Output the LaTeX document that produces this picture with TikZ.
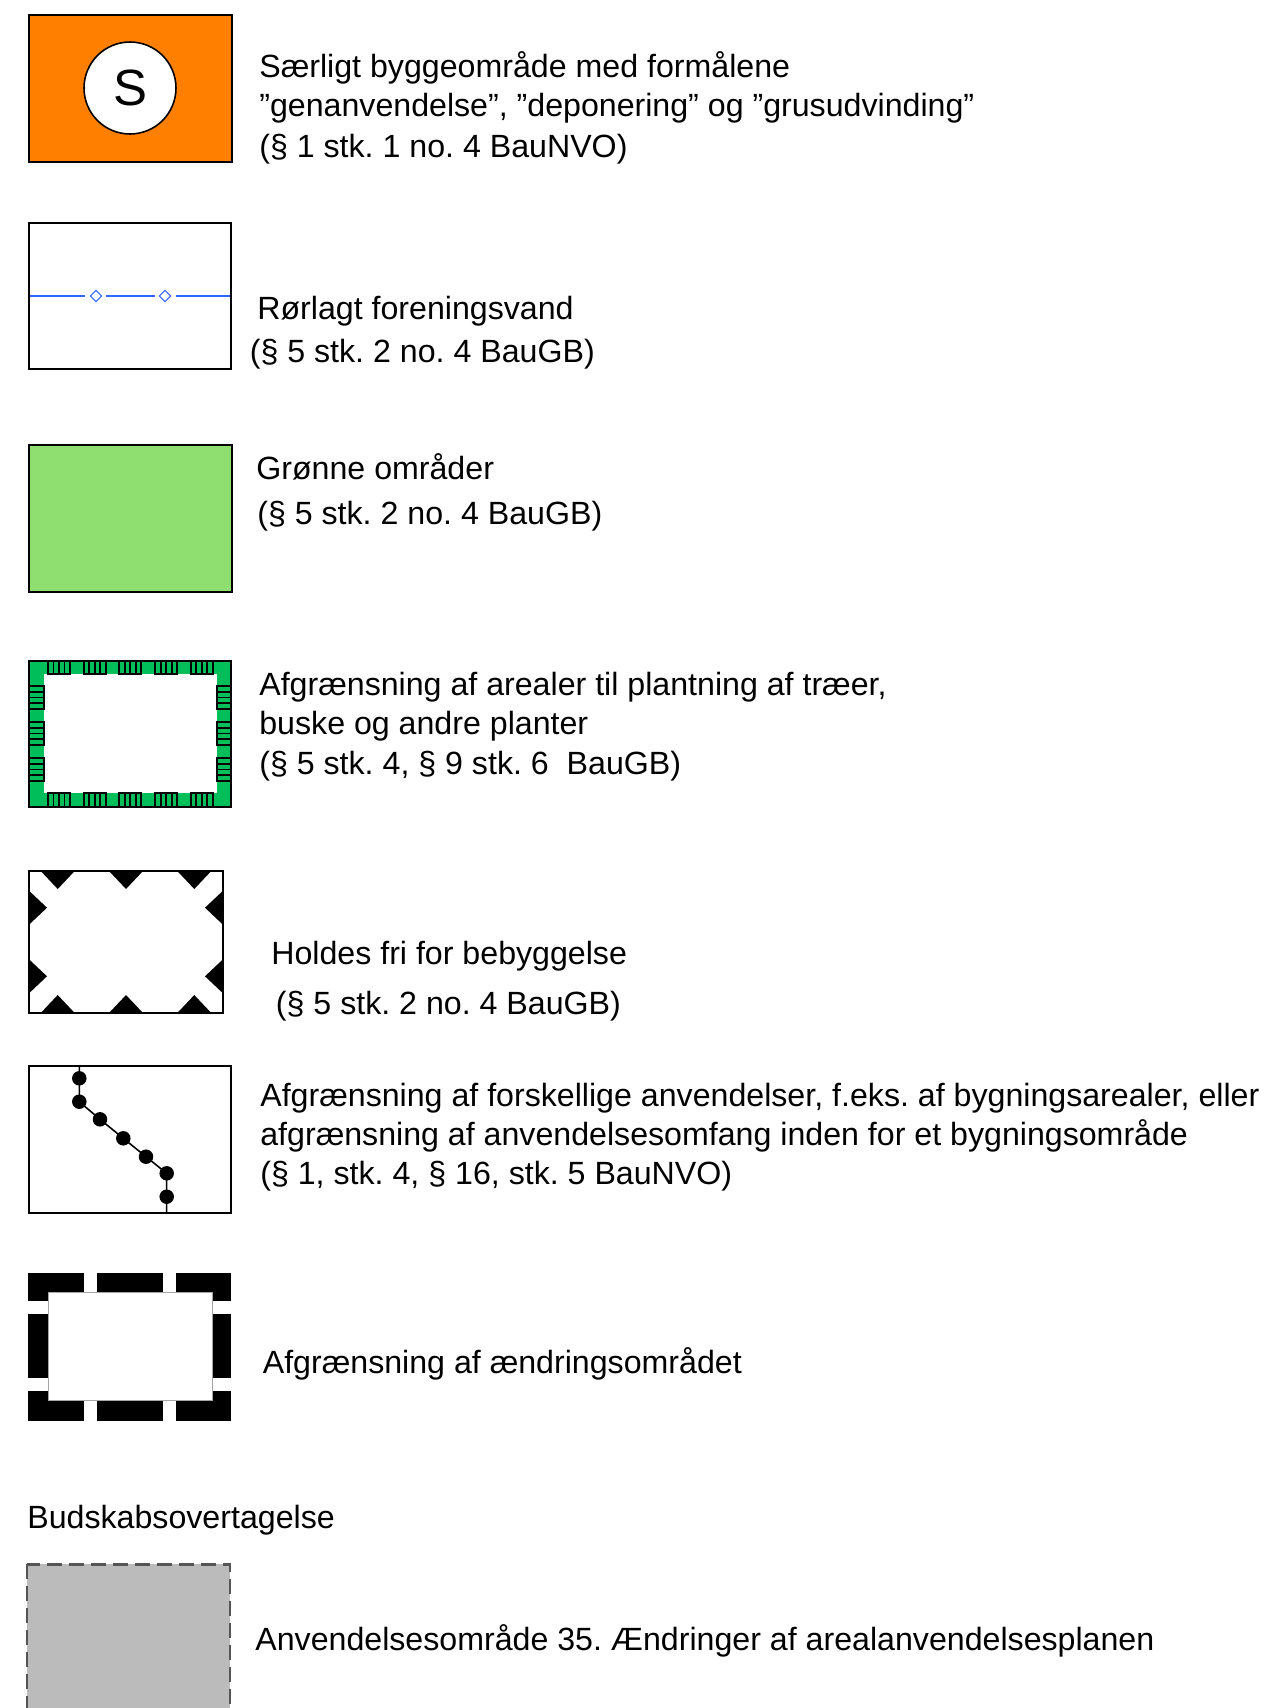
\documentclass[tikz,border=0pt]{standalone}
\usepackage{fontspec}
\setmainfont{Liberation Sans}
\frenchspacing
\definecolor{sorange}{RGB}{255,128,0}
\definecolor{pipeblue}{RGB}{51,102,255}
\definecolor{lightgreen}{RGB}{143,222,112}
\definecolor{plantgreen}{RGB}{0,190,90}
\definecolor{msggray}{RGB}{187,187,187}
\definecolor{dashgray}{RGB}{85,85,85}
\tikzset{
  legtext/.style={font=\fontsize{18.3}{22}\selectfont, anchor=base west, inner sep=0pt},
  symframe/.style={draw=black, line width=1.1pt},
  hatchbox/.style={draw=black, line width=1.1pt},
  pipe/.style={draw=pipeblue, line width=0.6pt},
}

\begin{document}
\begin{tikzpicture}[x=0.02cm,y=-0.02cm]
\useasboundingbox (0,0) rectangle (1268,1708);
% special building area (S)
\filldraw[fill=sorange, symframe] (29,15) rectangle (232,162);
\node[circle, draw, fill=white, line width=0.9pt, minimum size=1.84cm, inner sep=0pt,
      font=\fontsize{29}{30}\selectfont] (sym) at (130,88) {S};
\node[legtext] (txtS1) at (259,77) {Særligt byggeområde med formålene};
\node[legtext] (txtS2) at (259,116) {”genanvendelse”, ”deponering” og ”grusudvinding”};
\node[legtext] (txtS3) at (259,157) {(§ 1 stk. 1 no. 4 BauNVO)};
% piped water
\draw[pipe] (29,296) -- (85,296) (106,296) -- (155,296) (176,296) -- (231,296);
\foreach \x in {96,165}{
  \draw[pipe] (\x-5.7,296) -- (\x,290.3) -- (\x+5.7,296) -- (\x,301.7) -- cycle;}
\draw[symframe] (29,223) rectangle (231,369);
\node[legtext] (txtP1) at (257,319) {Rørlagt foreningsvand};
\node[legtext] (txtP2) at (249.5,362) {(§ 5 stk. 2 no. 4 BauGB)};
% green areas
\filldraw[fill=lightgreen, symframe] (29,445) rectangle (232,592);
\node[legtext] (txtG1) at (256,479) {Grønne områder};
\node[legtext] (txtG2) at (257,524) {(§ 5 stk. 2 no. 4 BauGB)};
% planting boundary
\filldraw[fill=plantgreen, symframe] (29,661) rectangle (231,807);
\fill[white] (44,674) rectangle (217,793);
\foreach \x in {48,83.7,119.4,155.1,190.8}{
  \foreach \ya/\yb in {661/674, 793/807}{
    \draw[hatchbox] (\x,\ya) rectangle (\x+22,\yb);
    \foreach \k in {1,2,3} \draw[hatchbox] (\x+5.5*\k,\ya) -- (\x+5.5*\k,\yb);}}
\foreach \y in {686,722,758}{
  \foreach \xa/\xb in {29/44, 217/231}{
    \draw[hatchbox] (\xa,\y) rectangle (\xb,\y+23);
    \foreach \k in {1,2,3} \draw[hatchbox] (\xa,\y+5.75*\k) -- (\xb,\y+5.75*\k);}}
\node[legtext] (txtT1) at (259,695) {Afgrænsning af arealer til plantning af træer,};
\node[legtext] (txtT2) at (259,734) {buske og andre planter};
\node[legtext] (txtT3) at (259,774) {(§ 5 stk. 4, § 9 stk. 6~ BauGB)};
% keep free of buildings
\draw[symframe] (29,871) rectangle (223,1013);
\foreach \x in {57.7,126,194.3}{
  \fill (\x-17,871) -- (\x+17,871) -- (\x,889) -- cycle;
  \fill (\x-17,1013) -- (\x+17,1013) -- (\x,995) -- cycle;}
\foreach \y in {907.7,976.3}{
  \fill (29,\y-17) -- (29,\y+17) -- (47,\y) -- cycle;
  \fill (223,\y-17) -- (223,\y+17) -- (205,\y) -- cycle;}
\node[legtext] (txtF1) at (271,964) {Holdes fri for bebyggelse};
\node[legtext] (txtF2) at (275.6,1014) {(§ 5 stk. 2 no. 4 BauGB)};
% boundary between uses
\draw[symframe] (29,1066) rectangle (231,1213);
\coordinate (c0) at (79.3,1066);
\coordinate (c1) at (79.3,1078.3);
\coordinate (c2) at (79.3,1101.7);
\coordinate (c3) at (100,1119.3);
\coordinate (c4) at (123.3,1138.3);
\coordinate (c5) at (146,1156.7);
\coordinate (c6) at (166.7,1173.3);
\coordinate (c7) at (166.7,1196.7);
\coordinate (c8) at (166.7,1213);
\draw[line width=0.9pt] (c0) -- (c2) -- (c3) -- (c4) -- (c5) -- (c6) -- (c8);
\foreach \n in {1,...,7} \fill (c\n) circle (0.145cm);
\node[legtext] (txtB1) at (260,1106) {Afgrænsning af forskellige anvendelser, f.eks. af bygningsarealer, eller};
\node[legtext] (txtB2) at (260,1145) {afgrænsning af anvendelsesomfang inden for et bygningsområde};
\node[legtext] (txtB3) at (260,1184) {(§ 1, stk. 4, § 16, stk. 5 BauNVO)};
% change area
\fill (28,1273) rectangle (231,1421);
\foreach \x in {84.3,162.7}{
  \fill[white] (\x,1272) rectangle (\x+13,1293);
  \fill[white] (\x,1399) rectangle (\x+13,1422);}
\foreach \y in {1301,1378.3}{
  \fill[white] (27,\y) rectangle (49,\y+12.7);
  \fill[white] (211,\y) rectangle (232,\y+12.7);}
\filldraw[fill=white, draw=gray!70, line width=0.4pt] (48,1292) rectangle (212,1400);
\node[legtext] (txtC1) at (262.5,1373) {Afgrænsning af ændringsområdet};
% message takeover
\node[legtext] (txtM0) at (27,1528) {Budskabsovertagelse};
\filldraw[fill=msggray, draw=dashgray, line width=1.7pt, dash pattern=on 8.5pt off 4pt]
  (27,1564) rectangle (230,1730);
\node[legtext] (txtM1) at (255,1650) {Anvendelsesområde 35. Ændringer af arealanvendelsesplanen};
\end{tikzpicture}
\end{document}
